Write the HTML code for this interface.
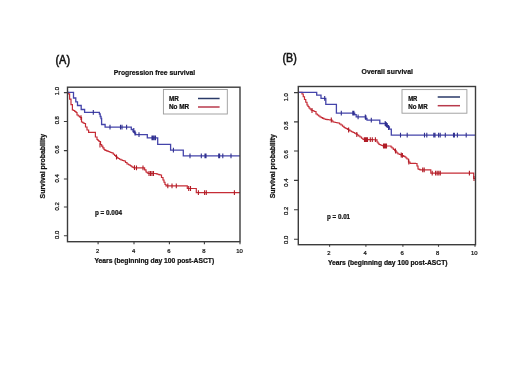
<!DOCTYPE html>
<html><head><meta charset="utf-8"><style>
html,body{margin:0;padding:0;background:#fff;width:520px;height:390px;overflow:hidden}
svg{display:block;will-change:transform}
text{font-family:"Liberation Sans", sans-serif}
</style></head><body>
<svg width="520" height="390" viewBox="0 0 520 390">
<rect width="520" height="390" fill="#fff"/>
<path d="M67.50,92.40 L68.20,92.40 L68.20,93.80 L69.60,93.80 L69.60,99.20 L71.00,99.20 L71.00,104.60 L72.40,104.60 L72.40,110.00 L73.50,110.00 L73.50,110.50 L74.75,110.50 L74.75,111.50 L76.00,111.50 L76.00,112.50 L77.00,112.50 L77.00,115.00 L78.25,115.00 L78.25,116.00 L79.50,116.00 L79.50,117.00 L80.50,117.00 L80.50,117.50 L81.50,117.50 L81.50,118.00 L81.50,122.00 L82.75,122.00 L82.75,122.75 L84.00,122.75 L84.00,123.50 L85.50,123.50 L85.50,127.00 L87.00,127.00 L87.00,130.00 L88.60,130.00 L88.60,132.30 L94.50,132.30 L95.40,132.30 L95.40,137.00 L97.00,137.00 L97.00,139.50 L98.00,139.50 L98.00,140.50 L99.00,140.50 L99.00,141.50 L100.50,141.50 L100.50,144.50 L101.67,144.50 L101.67,146.17 L102.83,146.17 L102.83,147.83 L104.00,147.83 L104.00,149.50 L105.00,149.50 L105.00,150.40 L106.50,150.40 L106.50,150.95 L108.00,150.95 L108.00,151.50 L109.33,151.50 L109.33,152.00 L110.67,152.00 L110.67,152.50 L112.00,152.50 L112.00,153.00 L113.30,153.00 L113.30,154.25 L114.60,154.25 L114.60,155.50 L115.73,155.50 L115.73,156.50 L116.87,156.50 L116.87,157.50 L118.00,157.50 L118.00,158.50 L119.50,158.50 L119.50,159.25 L121.00,159.25 L121.00,160.00 L122.50,160.00 L122.50,160.50 L124.00,160.50 L124.00,161.00 L125.50,161.00 L125.50,162.50 L127.00,162.50 L127.00,164.00 L128.50,164.00 L128.50,164.75 L130.00,164.75 L130.00,165.50 L131.00,165.50 L131.00,166.25 L132.00,166.25 L132.00,167.00 L133.00,167.00 L133.00,167.40 L134.00,167.40 L134.00,167.80 L143.20,167.80 L144.60,167.80 L144.60,169.90 L146.00,169.90 L146.00,172.00 L147.00,172.00 L147.00,172.75 L148.00,172.75 L148.00,173.50 L155.00,173.50 L156.25,173.50 L156.25,173.88 L157.50,173.88 L157.50,174.25 L158.75,174.25 L158.75,174.62 L160.00,174.62 L160.00,175.00 L161.50,175.00 L161.50,177.50 L163.00,177.50 L163.00,180.00 L164.00,180.00 L164.00,182.25 L165.00,182.25 L165.00,184.50 L166.00,184.50 L166.00,185.80 L187.30,185.80 L187.30,188.50 L196.30,188.50 L196.30,192.60 L240.00,192.60" stroke="#c62c36" stroke-width="1.2" fill="none" stroke-linejoin="miter"/>
<path d="M81.00,115.30V120.10M100.00,142.60V147.40M116.50,154.60V159.40M134.50,165.20V170.00M136.50,165.40V170.20M143.00,165.40V170.20M149.00,171.10V175.90M150.50,171.10V175.90M152.00,171.10V175.90M153.50,171.10V175.90M167.80,183.40V188.20M172.00,183.40V188.20M176.30,183.40V188.20M188.70,186.10V190.90M190.50,186.10V190.90M198.40,190.20V195.00M204.60,190.20V195.00M206.30,190.20V195.00M234.40,190.20V195.00" stroke="#b01c26" stroke-width="1.1" fill="none"/>
<path d="M67.50,92.40 L73.50,92.40 L73.50,98.00 L75.80,98.00 L75.80,101.80 L77.50,101.80 L77.50,105.50 L81.20,105.50 L81.20,109.50 L84.60,109.50 L84.60,112.30 L99.40,112.30 L99.40,114.00 L100.20,114.00 L100.20,116.50 L101.00,116.50 L101.00,118.50 L101.60,118.50 L101.60,124.50 L105.10,124.50 L105.10,127.10 L131.30,127.10 L131.30,129.50 L133.00,129.50 L133.00,131.50 L134.50,131.50 L134.50,133.00 L135.60,133.00 L135.60,134.60 L147.30,134.60 L147.30,137.80 L157.70,137.80 L157.70,144.30 L170.60,144.30 L170.60,150.20 L183.30,150.20 L183.30,155.80 L240.00,155.80" stroke="#4444aa" stroke-width="1.3" fill="none" stroke-linejoin="miter"/>
<path d="M93.30,109.90V114.70M110.00,124.70V129.50M120.50,124.70V129.50M122.00,124.70V129.50M126.60,124.70V129.50M133.80,128.10V132.90M135.00,130.60V135.40M139.00,132.20V137.00M152.00,135.40V140.20M153.00,135.40V140.20M154.20,135.40V140.20M155.50,135.40V140.20M173.40,147.80V152.60M190.00,153.40V158.20M201.30,153.40V158.20M205.00,153.40V158.20M206.00,153.40V158.20M218.70,153.40V158.20M219.60,153.40V158.20M222.80,153.40V158.20M231.00,153.40V158.20" stroke="#303090" stroke-width="1.1" fill="none"/>
<rect x="67.5" y="87.2" width="172.5" height="154.5" fill="none" stroke="#3c3c3c" stroke-width="1.4"/>
<path d="M63.90,92.60H67.5M63.90,121.50H67.5M63.90,150.60H67.5M63.90,179.00H67.5M63.90,207.00H67.5M63.90,235.80H67.5M98.10,241.7V244.30M134.00,241.7V244.30M169.40,241.7V244.30M204.40,241.7V244.30M240.00,241.7V244.30" stroke="#3c3c3c" stroke-width="1.1" fill="none"/>
<text x="59.3" y="234.8" font-size="5.9" text-anchor="middle" transform="rotate(-90 59.3 234.8)" fill="#111" stroke="#111" stroke-width="0.24" >0.0</text>
<text x="59.3" y="206.4" font-size="5.9" text-anchor="middle" transform="rotate(-90 59.3 206.4)" fill="#111" stroke="#111" stroke-width="0.24" >0.2</text>
<text x="59.3" y="178.3" font-size="5.9" text-anchor="middle" transform="rotate(-90 59.3 178.3)" fill="#111" stroke="#111" stroke-width="0.24" >0.4</text>
<text x="59.3" y="149.5" font-size="5.9" text-anchor="middle" transform="rotate(-90 59.3 149.5)" fill="#111" stroke="#111" stroke-width="0.24" >0.6</text>
<text x="59.3" y="120.2" font-size="5.9" text-anchor="middle" transform="rotate(-90 59.3 120.2)" fill="#111" stroke="#111" stroke-width="0.24" >0.8</text>
<text x="59.3" y="91.1" font-size="5.9" text-anchor="middle" transform="rotate(-90 59.3 91.1)" fill="#111" stroke="#111" stroke-width="0.24" >1.0</text>
<text x="97.69999999999999" y="253.2" font-size="5.9" text-anchor="middle" fill="#111" stroke="#111" stroke-width="0.24" >2</text>
<text x="133.6" y="253.2" font-size="5.9" text-anchor="middle" fill="#111" stroke="#111" stroke-width="0.24" >4</text>
<text x="169.0" y="253.2" font-size="5.9" text-anchor="middle" fill="#111" stroke="#111" stroke-width="0.24" >6</text>
<text x="204.0" y="253.2" font-size="5.9" text-anchor="middle" fill="#111" stroke="#111" stroke-width="0.24" >8</text>
<text x="239.6" y="253.2" font-size="5.9" text-anchor="middle" fill="#111" stroke="#111" stroke-width="0.24" >10</text>
<rect x="163.4" y="89.5" width="63.900000000000006" height="24.5" fill="#fff" stroke="#9a9a9a" stroke-width="0.9"/>
<path d="M198,98.5H219.6" stroke="#2a3a68" stroke-width="1.5"/>
<path d="M198,107.0H219.6" stroke="#b83a4c" stroke-width="1.5"/>
<text x="55.5" y="64" font-size="12" textLength="14.5" lengthAdjust="spacingAndGlyphs" fill="#111" stroke="#111" stroke-width="0.55" >(A)</text>
<text x="113.8" y="74.9" font-size="7.5" font-weight="bold" textLength="81.3" lengthAdjust="spacingAndGlyphs" fill="#111" stroke="#111" stroke-width="0.22" >Progression free survival</text>
<text x="94.4" y="262.5" font-size="6.7" font-weight="bold" textLength="119.8" lengthAdjust="spacingAndGlyphs" fill="#111" stroke="#111" stroke-width="0.22" >Years (beginning day 100 post-ASCT)</text>
<text x="45.4" y="166.2" font-size="6.8" font-weight="bold" text-anchor="middle" textLength="64.6" lengthAdjust="spacingAndGlyphs" transform="rotate(-90 45.4 166.2)" fill="#111" stroke="#111" stroke-width="0.22" >Survival probability</text>
<text x="168.9" y="100.8" font-size="6.3" font-weight="bold" textLength="9.8" lengthAdjust="spacingAndGlyphs" fill="#111" stroke="#111" stroke-width="0.22" >MR</text>
<text x="168.9" y="109.2" font-size="6.3" font-weight="bold" textLength="20.2" lengthAdjust="spacingAndGlyphs" fill="#111" stroke="#111" stroke-width="0.22" >No MR</text>
<text x="94.9" y="214.9" font-size="6.3" font-weight="bold" textLength="27.1" lengthAdjust="spacingAndGlyphs" fill="#111" stroke="#111" stroke-width="0.22" >p = 0.004</text>
<path d="M298.30,92.40 L300.80,92.40 L302.00,92.40 L302.00,94.00 L303.25,94.00 L303.25,96.75 L304.50,96.75 L304.50,99.50 L305.75,99.50 L305.75,102.25 L307.00,102.25 L307.00,105.00 L308.00,105.00 L308.00,106.50 L309.00,106.50 L309.00,108.00 L310.00,108.00 L310.00,109.00 L311.00,109.00 L311.00,110.00 L312.17,110.00 L312.17,110.50 L313.33,110.50 L313.33,111.00 L314.50,111.00 L314.50,111.50 L316.00,111.50 L316.00,114.00 L317.33,114.00 L317.33,115.00 L318.67,115.00 L318.67,116.00 L320.00,116.00 L320.00,117.00 L321.33,117.00 L321.33,117.67 L322.67,117.67 L322.67,118.33 L324.00,118.33 L324.00,119.00 L325.50,119.00 L325.50,119.30 L327.00,119.30 L327.00,119.60 L328.33,119.60 L328.33,119.73 L329.67,119.73 L329.67,119.87 L331.00,119.87 L331.00,120.00 L332.00,120.00 L332.00,121.00 L333.00,121.00 L333.00,122.00 L334.25,122.00 L334.25,122.25 L335.50,122.25 L335.50,122.50 L336.75,122.50 L336.75,122.75 L338.00,122.75 L338.00,123.00 L339.50,123.00 L339.50,124.00 L341.00,124.00 L341.00,125.00 L342.50,125.00 L342.50,126.25 L344.00,126.25 L344.00,127.50 L345.00,127.50 L345.00,128.00 L346.00,128.00 L346.00,128.50 L347.33,128.50 L347.33,129.33 L348.67,129.33 L348.67,130.17 L350.00,130.17 L350.00,131.00 L351.50,131.00 L351.50,131.75 L353.00,131.75 L353.00,132.50 L354.50,132.50 L354.50,133.25 L356.00,133.25 L356.00,134.00 L357.33,134.00 L357.33,135.00 L358.67,135.00 L358.67,136.00 L360.00,136.00 L360.00,137.00 L361.50,137.00 L361.50,138.25 L363.00,138.25 L363.00,139.50 L364.24,139.50 L364.24,139.53 L365.48,139.53 L365.48,139.56 L366.72,139.56 L366.72,139.59 L367.96,139.59 L367.96,139.62 L369.20,139.62 L369.20,139.65 L370.44,139.65 L370.44,139.68 L371.68,139.68 L371.68,139.71 L372.92,139.71 L372.92,139.74 L374.16,139.74 L374.16,139.77 L375.40,139.77 L375.40,139.80 L377.00,139.80 L377.00,142.00 L378.00,142.00 L378.00,143.25 L379.00,143.25 L379.00,144.50 L380.33,144.50 L380.33,145.00 L381.67,145.00 L381.67,145.50 L383.00,145.50 L383.00,146.00 L390.00,146.00 L391.00,146.00 L391.00,147.00 L392.00,147.00 L392.00,148.00 L393.33,148.00 L393.33,149.33 L394.67,149.33 L394.67,150.67 L396.00,150.67 L396.00,152.00 L397.00,152.00 L397.00,153.00 L398.00,153.00 L398.00,154.00 L399.50,154.00 L399.50,154.50 L401.00,154.50 L401.00,155.00 L402.33,155.00 L402.33,155.67 L403.67,155.67 L403.67,156.33 L405.00,156.33 L405.00,157.00 L406.00,157.00 L406.00,158.00 L407.00,158.00 L407.00,159.00 L408.50,159.00 L408.50,162.00 L410.00,162.00 L410.00,163.30 L411.38,163.30 L411.38,163.35 L412.75,163.35 L412.75,163.40 L414.12,163.40 L414.12,163.45 L415.50,163.45 L415.50,163.50 L417.00,163.50 L417.00,166.00 L418.00,166.00 L418.00,169.00 L419.00,169.00 L419.00,169.40 L420.00,169.40 L420.00,169.80 L430.80,169.80 L430.80,173.20 L473.70,173.20 L473.70,178.50 L475.50,178.50" stroke="#c62c36" stroke-width="1.2" fill="none" stroke-linejoin="miter"/>
<path d="M312.00,108.10V112.90M331.30,117.60V122.40M348.60,127.60V132.40M356.80,132.10V136.90M364.50,137.30V142.10M365.50,137.30V142.10M366.50,137.30V142.10M367.50,137.30V142.10M370.30,137.30V142.10M372.30,137.30V142.10M375.40,137.30V142.10M383.50,143.60V148.40M384.50,143.60V148.40M385.50,143.60V148.40M386.50,143.60V148.40M395.50,148.60V153.40M401.20,152.60V157.40M402.40,152.90V157.70M408.80,159.60V164.40M422.70,167.40V172.20M424.20,167.40V172.20M432.20,170.80V175.60M435.60,170.80V175.60M437.20,170.80V175.60M438.80,170.80V175.60M440.30,170.80V175.60M469.40,170.80V175.60M474.00,176.10V180.90" stroke="#b01c26" stroke-width="1.1" fill="none"/>
<path d="M298.30,92.40 L316.70,92.40 L316.70,95.10 L321.00,95.10 L321.00,98.30 L325.80,98.30 L325.80,104.30 L336.40,104.30 L336.40,113.10 L354.70,113.10 L354.70,114.60 L356.20,114.60 L356.20,116.80 L365.60,116.80 L365.60,118.50 L367.00,118.50 L367.00,120.20 L379.80,120.20 L379.80,123.50 L384.60,123.50 L386.00,123.50 L386.00,125.00 L387.00,125.00 L387.00,126.00 L388.00,126.00 L388.00,127.00 L389.40,127.00 L389.40,129.20 L391.30,129.20 L391.30,135.20 L475.50,135.20" stroke="#4444aa" stroke-width="1.3" fill="none" stroke-linejoin="miter"/>
<path d="M324.70,95.90V100.70M341.30,110.70V115.50M352.80,110.70V115.50M353.90,110.70V115.50M358.10,114.40V119.20M365.30,114.40V119.20M365.90,115.20V120.00M371.30,117.80V122.60M385.20,121.10V125.90M386.20,122.10V126.90M387.20,123.10V127.90M388.60,125.10V129.90M400.50,132.80V137.60M407.20,132.80V137.60M424.50,132.80V137.60M426.80,132.80V137.60M433.80,132.80V137.60M435.00,132.80V137.60M438.60,132.80V137.60M440.20,132.80V137.60M445.30,132.80V137.60M453.50,132.80V137.60M454.40,132.80V137.60M457.40,132.80V137.60M466.20,132.80V137.60" stroke="#303090" stroke-width="1.1" fill="none"/>
<rect x="298.3" y="86.5" width="177.2" height="158.2" fill="none" stroke="#3c3c3c" stroke-width="1.4"/>
<path d="M294.00,92.60H298.3M294.00,121.90H298.3M294.00,151.00H298.3M294.00,180.40H298.3M294.00,209.70H298.3M294.00,239.30H298.3M329.60,244.7V246.70M365.90,244.7V246.70M402.90,244.7V246.70M438.50,244.7V246.70M475.00,244.7V246.70" stroke="#3c3c3c" stroke-width="1.1" fill="none"/>
<text x="287.6" y="239.8" font-size="5.9" text-anchor="middle" transform="rotate(-90 287.6 239.8)" fill="#111" stroke="#111" stroke-width="0.24" >0.0</text>
<text x="287.6" y="210.8" font-size="5.9" text-anchor="middle" transform="rotate(-90 287.6 210.8)" fill="#111" stroke="#111" stroke-width="0.24" >0.2</text>
<text x="287.6" y="182.6" font-size="5.9" text-anchor="middle" transform="rotate(-90 287.6 182.6)" fill="#111" stroke="#111" stroke-width="0.24" >0.4</text>
<text x="287.6" y="154.3" font-size="5.9" text-anchor="middle" transform="rotate(-90 287.6 154.3)" fill="#111" stroke="#111" stroke-width="0.24" >0.6</text>
<text x="287.6" y="125.6" font-size="5.9" text-anchor="middle" transform="rotate(-90 287.6 125.6)" fill="#111" stroke="#111" stroke-width="0.24" >0.8</text>
<text x="287.6" y="97.2" font-size="5.9" text-anchor="middle" transform="rotate(-90 287.6 97.2)" fill="#111" stroke="#111" stroke-width="0.24" >1.0</text>
<text x="328.8" y="255.1" font-size="5.9" text-anchor="middle" fill="#111" stroke="#111" stroke-width="0.24" >2</text>
<text x="365.09999999999997" y="255.1" font-size="5.9" text-anchor="middle" fill="#111" stroke="#111" stroke-width="0.24" >4</text>
<text x="402.09999999999997" y="255.1" font-size="5.9" text-anchor="middle" fill="#111" stroke="#111" stroke-width="0.24" >6</text>
<text x="437.7" y="255.1" font-size="5.9" text-anchor="middle" fill="#111" stroke="#111" stroke-width="0.24" >8</text>
<text x="474.2" y="255.1" font-size="5.9" text-anchor="middle" fill="#111" stroke="#111" stroke-width="0.24" >10</text>
<rect x="402.0" y="89.6" width="64.89999999999998" height="23.60000000000001" fill="#fff" stroke="#9a9a9a" stroke-width="0.9"/>
<path d="M437.7,97.0H460" stroke="#2a3a68" stroke-width="1.5"/>
<path d="M437.7,105.7H460" stroke="#b83a4c" stroke-width="1.5"/>
<text x="282.5" y="62.3" font-size="12" textLength="14.3" lengthAdjust="spacingAndGlyphs" fill="#111" stroke="#111" stroke-width="0.55" >(B)</text>
<text x="361.6" y="73.8" font-size="7.6" font-weight="bold" textLength="51.3" lengthAdjust="spacingAndGlyphs" fill="#111" stroke="#111" stroke-width="0.22" >Overall survival</text>
<text x="327.9" y="265.3" font-size="6.7" font-weight="bold" textLength="119.6" lengthAdjust="spacingAndGlyphs" fill="#111" stroke="#111" stroke-width="0.22" >Years (beginning day 100 post-ASCT)</text>
<text x="274.8" y="166.2" font-size="6.8" font-weight="bold" text-anchor="middle" textLength="64.1" lengthAdjust="spacingAndGlyphs" transform="rotate(-90 274.8 166.2)" fill="#111" stroke="#111" stroke-width="0.22" >Survival probability</text>
<text x="408.2" y="100.8" font-size="6.3" font-weight="bold" textLength="9.2" lengthAdjust="spacingAndGlyphs" fill="#111" stroke="#111" stroke-width="0.22" >MR</text>
<text x="408.2" y="109.1" font-size="6.3" font-weight="bold" textLength="19.5" lengthAdjust="spacingAndGlyphs" fill="#111" stroke="#111" stroke-width="0.22" >No MR</text>
<text x="327.0" y="218.5" font-size="6.3" font-weight="bold" textLength="23.1" lengthAdjust="spacingAndGlyphs" fill="#111" stroke="#111" stroke-width="0.22" >p = 0.01</text>
</svg>
</body></html>
